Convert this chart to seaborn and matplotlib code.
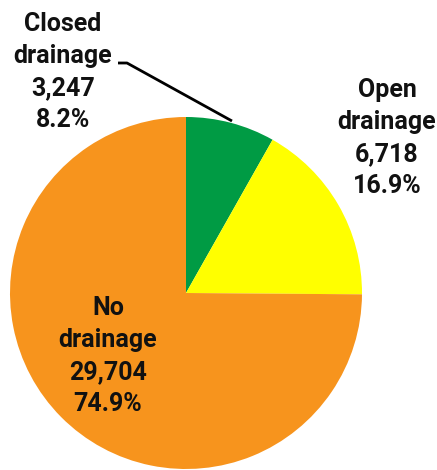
import matplotlib
matplotlib.use("Agg")
import matplotlib.pyplot as plt
import seaborn as sns

categories = ["Closed\ndrainage", "Open\ndrainage", "No\ndrainage"]
values = [3247, 6718, 29704]
percents = ["8.2%", "16.9%", "74.9%"]
colors = ["#009B44", "#FFFF00", "#F7941D"]

sns.set_theme(style="white")
plt.rcParams['font.family'] = ['Roboto', 'Liberation Sans', 'DejaVu Sans']

W, H = 437, 470
fig = plt.figure(figsize=(W / 100, H / 100), dpi=100)
ax = fig.add_axes([0, 0, 1, 1])

cx, cy, r = 186, H - 293, 176
ax.pie(values, colors=colors, startangle=90, counterclock=False,
       center=(cx, cy), radius=r, frame=True,
       wedgeprops=dict(linewidth=0))
ax.set_xlim(0, W)
ax.set_ylim(0, H)
ax.set_aspect('equal')
ax.axis('off')

label_pos = [(63, H - 72), (387, H - 138), (108, H - 356)]
for cat, v, p, (x, y) in zip(categories, values, percents, label_pos):
    ax.text(x, y, f"{cat}\n{v:,}\n{p}", ha='center', va='center',
            multialignment='center', fontsize=18, fontweight='bold',
            color='#111111', linespacing=1.42)

# leader line for Closed drainage
ax.plot([118, 127, 232], [H - 63, H - 63, H - 121], color='black', lw=2,
        solid_capstyle='butt')

fig.savefig("out.png", dpi=100)
